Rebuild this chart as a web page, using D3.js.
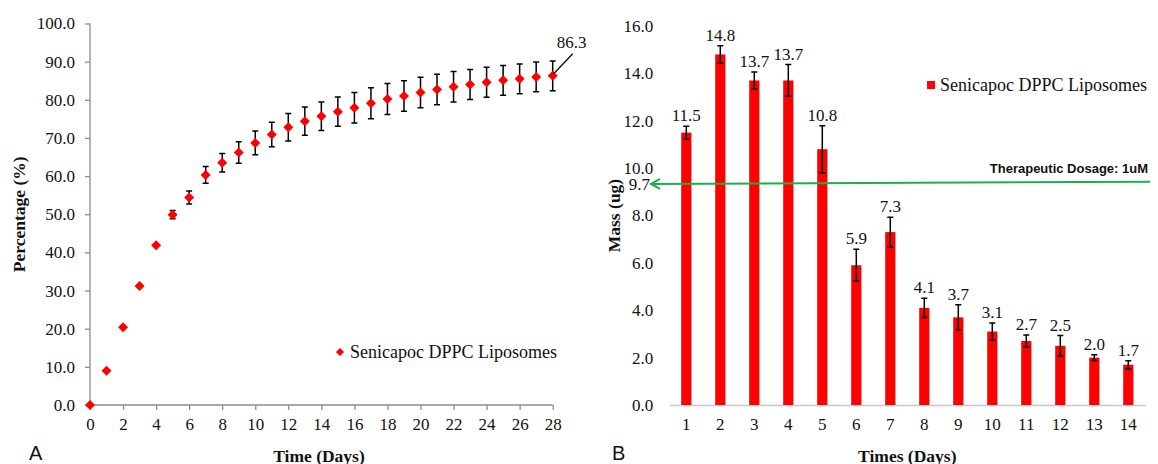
<!DOCTYPE html>
<html><head><meta charset="utf-8">
<script src="https://cdn.jsdelivr.net/npm/d3@7"></script>
<style>
body{margin:0;background:#fff;}
svg{display:block;}
text{font-family:"Liberation Serif","Times New Roman",serif;fill:#111;}
</style></head>
<body><svg id="c" width="1158" height="464"></svg>
<script>
// ---- Panel A data ----
const daysA = d3.range(0, 29);
const percentA = [0, 9.0, 20.4, 31.2, 41.9, 49.9, 54.4, 60.3, 63.5, 66.2, 68.7, 70.9, 72.8,
  74.4, 75.7, 76.9, 77.9, 79.1, 80.2, 81.0, 81.9, 82.7, 83.4, 84.0, 84.6, 85.1, 85.5, 86.0, 86.3];
const errA = [0, 0, 0, 0, 0, 1.1, 1.7, 2.2, 2.4, 2.8, 3.1, 3.2, 3.6,
  3.7, 3.75, 3.85, 4.0, 4.05, 4.05, 4.0, 4.0, 4.0, 4.0, 3.95, 3.95, 3.9, 3.9, 3.9, 3.9];
const xTicksA = d3.range(0, 29, 2);
const yTicksA = d3.range(0, 101, 10);

// ---- Panel B data ----
const daysB = d3.range(1, 15);
const massB = [11.5, 14.8, 13.7, 13.7, 10.8, 5.9, 7.3, 4.1, 3.7, 3.1, 2.7, 2.5, 2.0, 1.7];
const errB = [0.27, 0.37, 0.36, 0.67, 0.99, 0.68, 0.63, 0.41, 0.53, 0.36, 0.25, 0.43, 0.12, 0.17];
const yTicksB = d3.range(0, 16.1, 2);
const dosageLabel = "9.7";
const dosageLevel = [9.33, 9.43]; // drawn level of the arrow (left, right end)

const svg = d3.select("#c");
const red = "#ff0000", axisCol = "#8c8c8c";

// ===== Panel A =====
const xA = d3.scaleLinear().domain([0, 28]).range([90, 552.7]);
const yA = d3.scaleLinear().domain([0, 100]).range([405, 23.5]);
const gA = svg.append("g");

const axA = gA.append("g").attr("transform", `translate(0,${yA(0)})`)
  .call(d3.axisBottom(xA).tickValues(xTicksA).tickSize(5).tickPadding(8).tickFormat(d3.format("d")));
const ayA = gA.append("g").attr("transform", `translate(${xA(0)},0)`)
  .call(d3.axisLeft(yA).tickValues(yTicksA).tickSize(5).tickPadding(10).tickFormat(d3.format(".1f")));
[axA, ayA].forEach(a => {
  a.select(".domain").attr("stroke", axisCol).attr("stroke-width", 1.3);
  a.selectAll(".tick line").attr("stroke", axisCol).attr("stroke-width", 1.3);
  a.selectAll("text").style("font-family", "Liberation Serif").style("font-size", "17px").attr("fill", "#111");
});
ayA.select(".domain").attr("d", `M0,${yA(100)}V${yA(0)}`);
axA.select(".domain").attr("d", `M${xA(0)},0H${xA(28)}`);

// error bars
const ptsA = daysA.map((d, i) => ({d, v: percentA[i], e: errA[i]}));
const ebA = gA.append("g").attr("stroke", "#000").attr("stroke-width", 1.5).attr("fill", "none");
ptsA.filter(p => p.e > 0).forEach(p => {
  const x = xA(p.d), y1 = yA(p.v + p.e), y2 = yA(p.v - p.e);
  ebA.append("path").attr("d", `M${x},${y1}V${y2}M${x-3},${y1}H${x+3}M${x-3},${y2}H${x+3}`);
});
gA.append("g").selectAll("path.pt").data(ptsA).join("path")
  .attr("class", "pt")
  .attr("transform", p => `translate(${xA(p.d)},${yA(p.v)}) rotate(45)`)
  .attr("d", d3.symbol().type(d3.symbolSquare).size(50))
  .attr("fill", red);

// last value label with leader
const last = ptsA[ptsA.length - 1];
gA.append("line").attr("x1", xA(last.d) + 1).attr("y1", yA(last.v) - 2)
  .attr("x2", xA(last.d) + 20).attr("y2", yA(last.v) - 22).attr("stroke", "#000").attr("stroke-width", 1.2);
gA.append("text").attr("x", xA(last.d) + 19).attr("y", yA(last.v) - 28)
  .attr("text-anchor", "middle").style("font-size", "17px").text(last.v.toFixed(1));

// legend A
gA.append("path").attr("transform", "translate(340,352) rotate(45)")
  .attr("d", d3.symbol().type(d3.symbolSquare).size(34)).attr("fill", red);
gA.append("text").attr("x", 350).attr("y", 358).style("font-size", "18px").text("Senicapoc DPPC Liposomes");

// titles
gA.append("text").attr("transform", `translate(25,${(yA(0)+yA(100))/2}) rotate(-90)`)
  .attr("text-anchor", "middle").style("font-size", "17.5px").style("font-weight", "bold").text("Percentage (%)");
gA.append("text").attr("x", 319).attr("y", 462).attr("text-anchor", "middle")
  .style("font-size", "17.5px").style("font-weight", "bold").text("Time (Days)");
gA.append("text").attr("x", 29).attr("y", 460).style("font-family", "Liberation Sans, Arial, sans-serif")
  .style("font-size", "20px").text("A");

// ===== Panel B =====
const xB = d3.scaleBand().domain(daysB).range([669.3, 1145.3]).paddingInner(0.7).paddingOuter(0.35);
const yB = d3.scaleLinear().domain([0, 16]).range([405, 26]);
const gB = svg.append("g");

const axB = gB.append("g").attr("transform", `translate(0,${yB(0)})`)
  .call(d3.axisBottom(xB).tickSize(0).tickPadding(13));
const ayB = gB.append("g").attr("transform", `translate(669.3,0)`)
  .call(d3.axisLeft(yB).tickValues(yTicksB).tickSize(0).tickPadding(16).tickFormat(d3.format(".1f")));
axB.select(".domain").attr("stroke", "#c8c8c8").attr("stroke-width", 1.5);
ayB.select(".domain").remove();
[axB, ayB].forEach(a => a.selectAll("text").style("font-family", "Liberation Serif").style("font-size", "17px").attr("fill", "#111"));

const barsB = daysB.map((d, i) => ({d, v: massB[i], e: errB[i]}));
gB.append("g").selectAll("rect").data(barsB).join("rect")
  .attr("x", b => xB(b.d)).attr("width", xB.bandwidth())
  .attr("y", b => yB(b.v)).attr("height", b => yB(0) - yB(b.v)).attr("fill", red);

// dosage arrow
const green = "#1fae4b";
const ayL = yB(dosageLevel[0]), ayR = yB(dosageLevel[1]);
gB.append("line").attr("x1", 651).attr("y1", ayL).attr("x2", 1150).attr("y2", ayR)
  .attr("stroke", green).attr("stroke-width", 2);
gB.append("path").attr("d", `M660,${ayL-5}L651,${ayL}L660,${ayL+5}`)
  .attr("stroke", green).attr("stroke-width", 2).attr("fill", "none");
gB.append("text").attr("x", 650).attr("y", ayL).attr("dy", "0.35em").attr("text-anchor", "end")
  .style("font-size", "17px").text(dosageLabel);
gB.append("text").attr("x", 1148).attr("y", yB(dosageLevel[1]) - 9).attr("text-anchor", "end")
  .style("font-family", "Liberation Sans, Arial, sans-serif").style("font-weight", "bold").style("font-size", "13px")
  .text("Therapeutic Dosage: 1uM");

// error bars B
const ebB = gB.append("g").attr("stroke", "#000").attr("stroke-width", 1.5).attr("fill", "none");
barsB.forEach(b => {
  const x = xB(b.d) + xB.bandwidth() / 2, y1 = yB(b.v + b.e), y2 = yB(b.v - b.e);
  ebB.append("path").attr("d", `M${x},${y1}V${y2}M${x-3},${y1}H${x+3}M${x-3},${y2}H${x+3}`);
});
// value labels
gB.append("g").selectAll("text").data(barsB).join("text")
  .attr("x", b => xB(b.d) + xB.bandwidth() / 2).attr("y", b => yB(b.v + b.e) - 5)
  .attr("text-anchor", "middle").style("font-size", "17px").text(b => b.v.toFixed(1));

// legend B
gB.append("rect").attr("x", 927).attr("y", 81).attr("width", 8).attr("height", 8).attr("fill", red);
gB.append("text").attr("x", 940).attr("y", 91).style("font-size", "18px").text("Senicapoc DPPC Liposomes");

// titles
gB.append("text").attr("transform", `translate(620,${(yB(0)+yB(16))/2}) rotate(-90)`)
  .attr("text-anchor", "middle").style("font-size", "17.5px").style("font-weight", "bold").text("Mass (ug)");
gB.append("text").attr("x", 907.3).attr("y", 462).attr("text-anchor", "middle")
  .style("font-size", "17.5px").style("font-weight", "bold").text("Times (Days)");
gB.append("text").attr("x", 612).attr("y", 460).style("font-family", "Liberation Sans, Arial, sans-serif")
  .style("font-size", "20px").text("B");
</script></body></html>
